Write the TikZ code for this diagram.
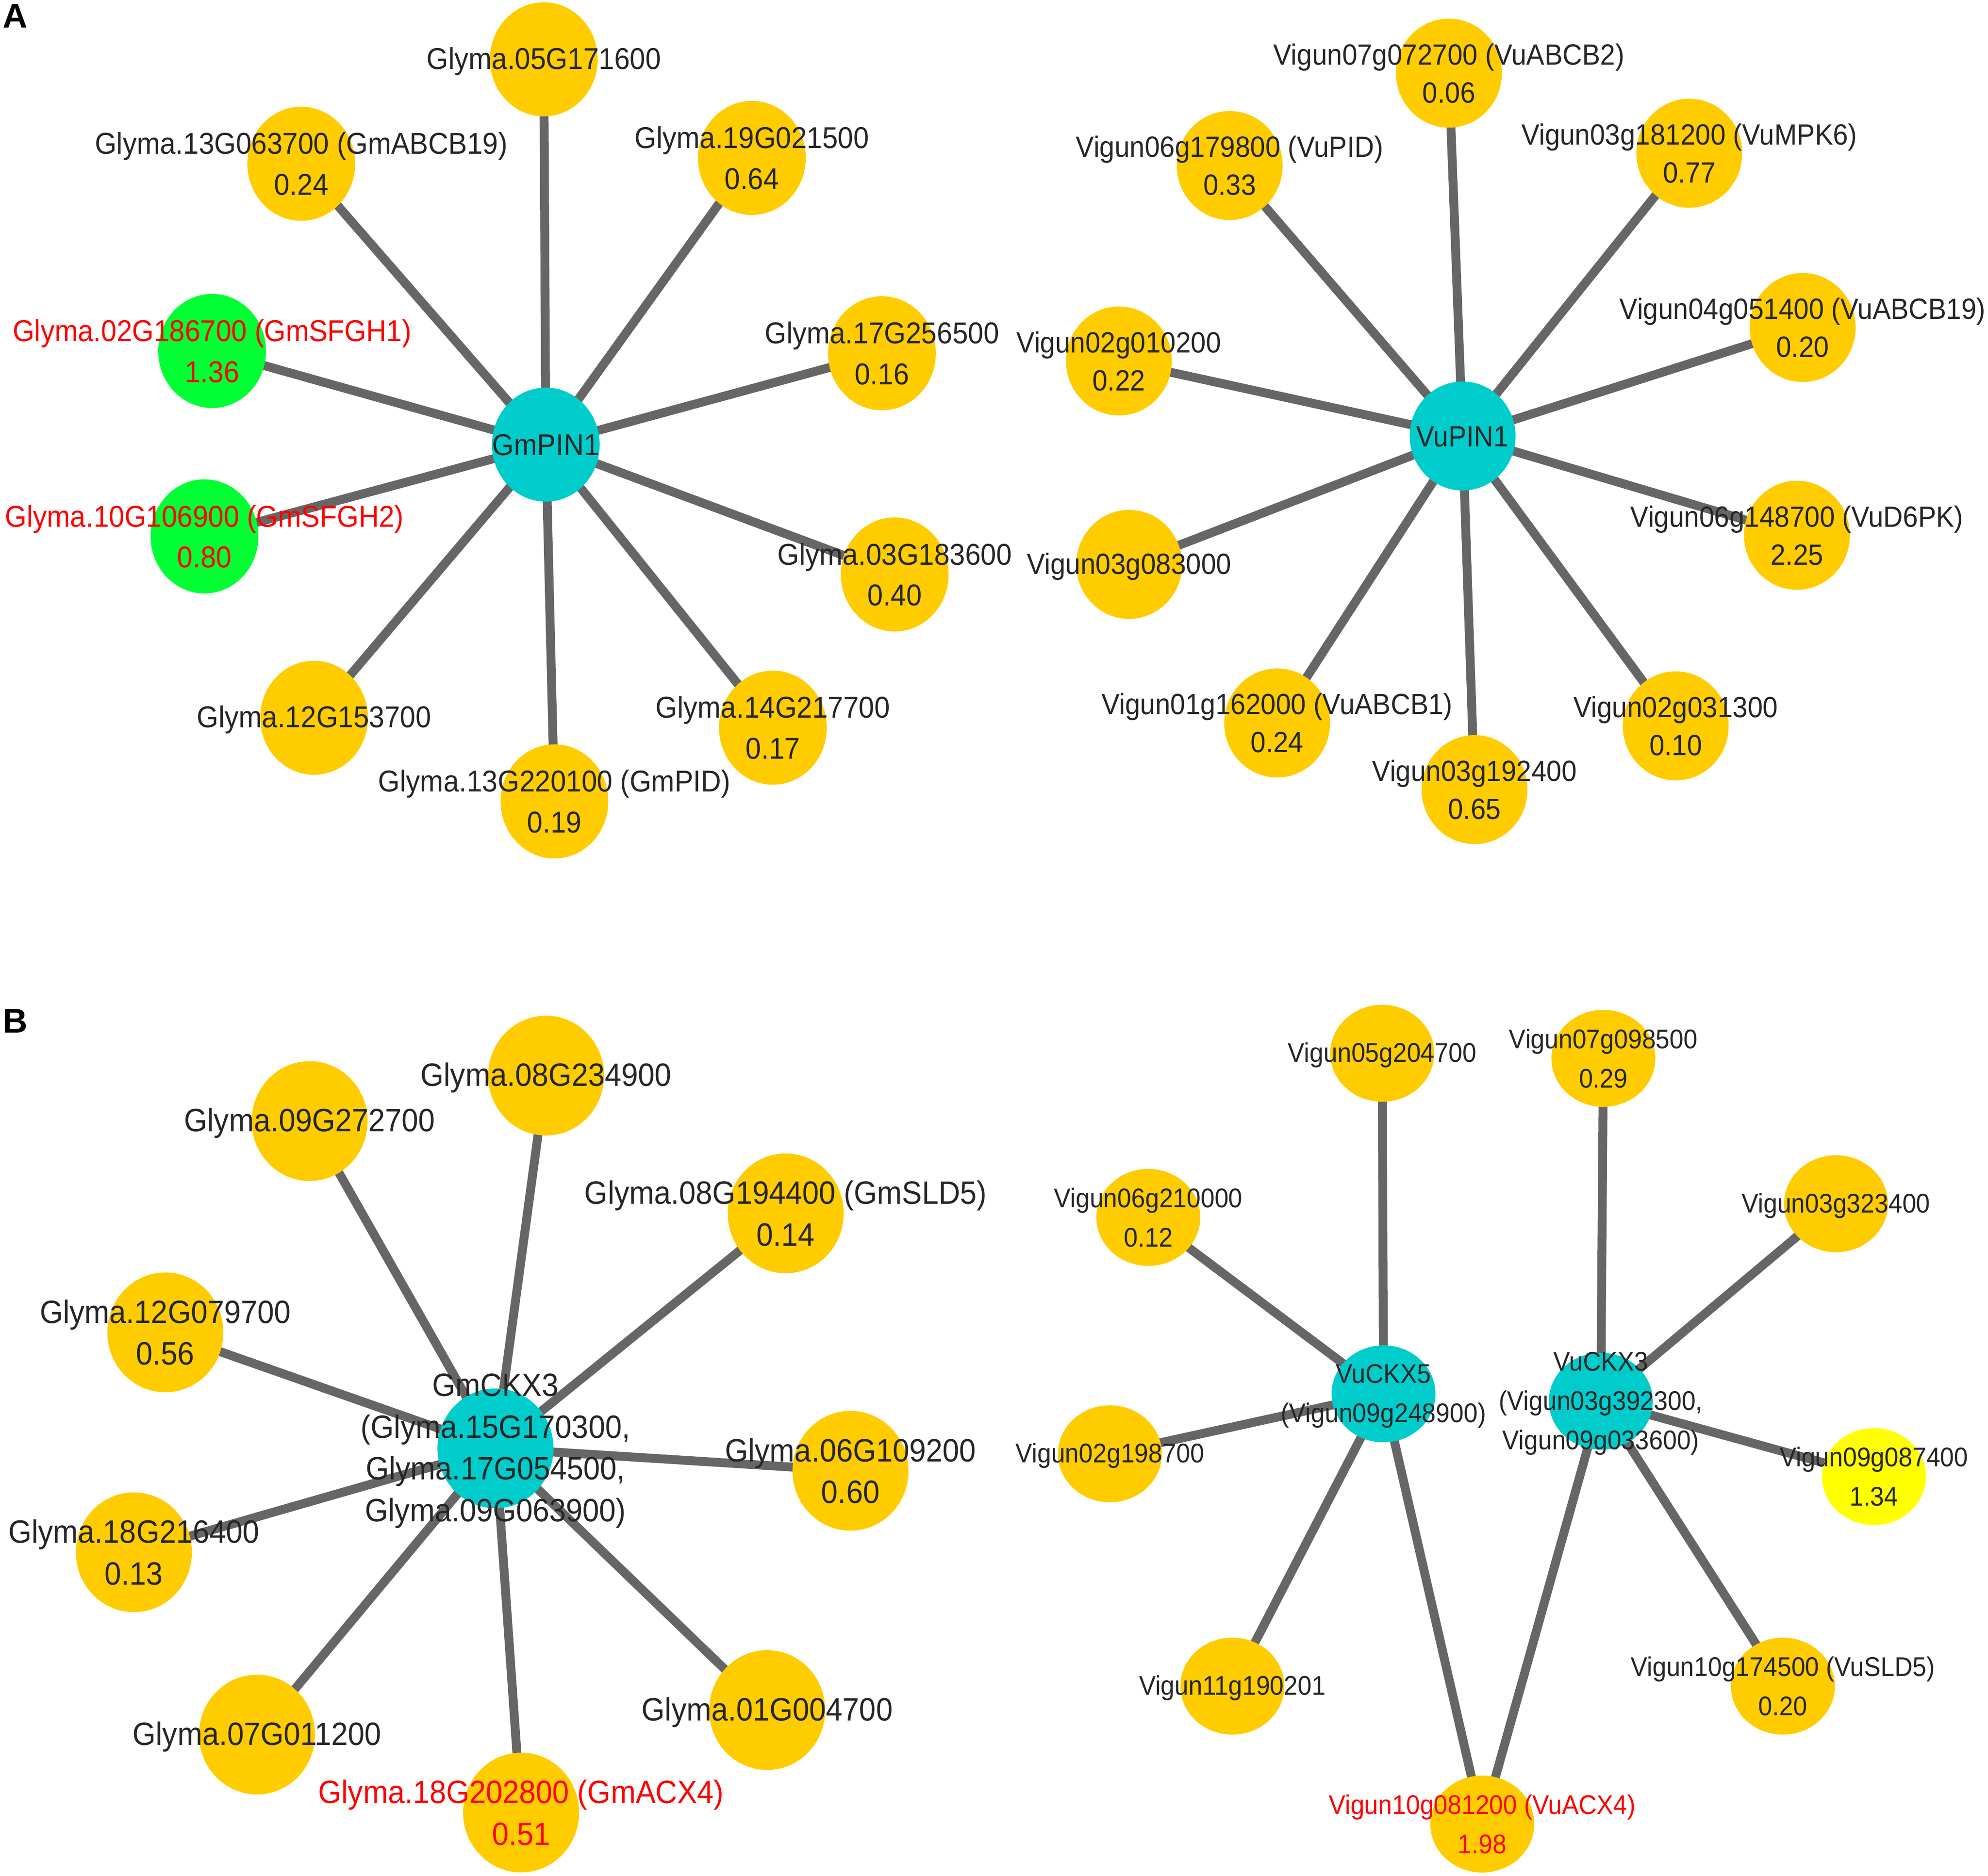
\documentclass[tikz,border=0pt]{standalone}
\usepackage{fontspec}
\setmainfont[FakeStretch=0.925]{Liberation Sans}
\newfontfamily\panelfont{Liberation Sans}
\usetikzlibrary{shapes.geometric}
\pgfdeclarelayer{edgelayer}
\pgfdeclarelayer{textlayer}
\pgfsetlayers{edgelayer,main,textlayer}
\definecolor{orangefill}{RGB}{255,204,0}
\definecolor{greenfill}{RGB}{0,255,51}
\definecolor{cyanfill}{RGB}{0,204,204}
\definecolor{yellowfill}{RGB}{255,255,0}
\definecolor{edgegray}{RGB}{102,102,102}
\definecolor{labeltext}{RGB}{38,38,38}
\definecolor{redtext}{RGB}{255,0,0}
\newcommand\lst{\rule[-0.14em]{0pt}{1em}}
\begin{document}
\begin{tikzpicture}[x=1pt,y=-1pt,
  gene/.style={ellipse, inner sep=0pt, fill=orangefill},
  sizeA/.style={minimum width=85pt, minimum height=90pt},
  sizeB/.style={minimum width=83.5pt, minimum height=86pt},
  sizeC/.style={minimum width=91.5pt, minimum height=94.5pt},
  sizeD/.style={minimum width=82pt, minimum height=76.5pt},
  hubfill/.style={fill=cyanfill},
  upfill/.style={fill=greenfill},
  hifill/.style={fill=yellowfill},
  lab/.style={align=center, inner sep=0pt, text=labeltext},
  redlab/.style={text=redtext},
  fontA/.style={font=\fontsize{23.8}{32.3}\selectfont},
  fontB/.style={font=\fontsize{23.1}{30}\selectfont},
  fontC/.style={font=\fontsize{25.5}{33}\selectfont},
  fontD/.style={font=\fontsize{21.3}{31}\selectfont},
  link/.style={draw=edgegray, line width=7pt},
  panel/.style={font=\panelfont\bfseries\fontsize{27}{27}\selectfont, anchor=base west, inner sep=0pt, text=black}
]
\useasboundingbox (0,0) rectangle (1568,1480);

% ---------------- Panel A, left ----------------
\node[gene,sizeA,hubfill] (ga0) at (430.5,350.8) {};
\node[gene,sizeA] (ga1) at (428.9,46.8) {};
\node[gene,sizeA] (ga2) at (237.6,129.2) {};
\node[gene,sizeA] (ga3) at (593,124.6) {};
\node[gene,sizeA,upfill] (ga4) at (167.3,276.9) {};
\node[gene,sizeA,upfill] (ga5) at (161.3,423.2) {};
\node[gene,sizeA] (ga6) at (695.6,278.7) {};
\node[gene,sizeA] (ga7) at (705.7,453.2) {};
\node[gene,sizeA] (ga8) at (247.7,566.3) {};
\node[gene,sizeA] (ga9) at (609.6,574.1) {};
\node[gene,sizeA] (ga10) at (437.3,632.3) {};

% ---------------- Panel A, right ----------------
\node[gene,sizeB,hubfill] (va0) at (1153.6,344) {};
\node[gene,sizeB] (va1) at (1142.8,57.7) {};
\node[gene,sizeB] (va2) at (969.9,130.6) {};
\node[gene,sizeB] (va3) at (1332.4,120.9) {};
\node[gene,sizeB] (va4) at (1421.8,258.4) {};
\node[gene,sizeB] (va5) at (882.5,284.8) {};
\node[gene,sizeB] (va6) at (890.6,445.3) {};
\node[gene,sizeB] (va7) at (1417.3,422.3) {};
\node[gene,sizeB] (va8) at (1007.3,570.4) {};
\node[gene,sizeB] (va9) at (1163,623) {};
\node[gene,sizeB] (va10) at (1321.7,572.7) {};

% ---------------- Panel B, left ----------------
\node[gene,sizeC,hubfill] (gb0) at (390.8,1142.7) {};
\node[gene,sizeC] (gb1) at (430.7,848.6) {};
\node[gene,sizeC] (gb2) at (244.2,884.5) {};
\node[gene,sizeC] (gb3) at (619.7,957.3) {};
\node[gene,sizeC] (gb4) at (130.4,1051.2) {};
\node[gene,sizeC] (gb5) at (670.8,1160.4) {};
\node[gene,sizeC] (gb6) at (105.6,1224.7) {};
\node[gene,sizeC] (gb7) at (202.7,1368.5) {};
\node[gene,sizeC] (gb8) at (605.1,1349.2) {};
\node[gene,sizeC] (gb9) at (411,1430) {};

% ---------------- Panel B, right ----------------
\node[gene,sizeD,hubfill] (vb1) at (1091.2,1099.7) {};
\node[gene,sizeD,hubfill] (vb2) at (1262.6,1105.5) {};
\node[gene,sizeD] (vb3) at (1090.2,831) {};
\node[gene,sizeD] (vb4) at (1264.6,835) {};
\node[gene,sizeD] (vb5) at (905.7,960.5) {};
\node[gene,sizeD] (vb6) at (1448.1,949.7) {};
\node[gene,sizeD] (vb7) at (875.4,1147) {};
\node[gene,sizeD,hifill] (vb8) at (1478,1165) {};
\node[gene,sizeD] (vb9) at (972,1330.3) {};
\node[gene,sizeD] (vb10) at (1406.2,1330.3) {};
\node[gene,sizeD] (vb11) at (1169.1,1439.1) {};

% ---------------- Edges ----------------
\begin{pgfonlayer}{edgelayer}
\foreach \n in {ga1,ga2,ga3,ga4,ga5,ga6,ga7,ga8,ga9,ga10}
  \draw[link] (ga0.center) -- (\n.center);
\foreach \n in {va1,va2,va3,va4,va5,va6,va7,va8,va9,va10}
  \draw[link] (va0.center) -- (\n.center);
\foreach \n in {gb1,gb2,gb3,gb4,gb5,gb6,gb7,gb8,gb9}
  \draw[link] (gb0.center) -- (\n.center);
\foreach \n in {vb3,vb5,vb7,vb9,vb11}
  \draw[link] (vb1.center) -- (\n.center);
\foreach \n in {vb4,vb6,vb8,vb10,vb11}
  \draw[link] (vb2.center) -- (\n.center);
\end{pgfonlayer}

% ---------------- Labels ----------------
\begin{pgfonlayer}{textlayer}
\node[panel] (labelA) at (2,21.8) {A};
\node[panel] (labelB) at (2,815) {B};

\node[lab,fontA] (ga0t) at (ga0) {\lst GmPIN1};
\node[lab,fontA] (ga1t) at (ga1) {\lst Glyma.05G171600};
\node[lab,fontA] (ga2t) at (ga2) {\lst Glyma.13G063700 (GmABCB19)\\\lst 0.24};
\node[lab,fontA] (ga3t) at (ga3) {\lst Glyma.19G021500\\\lst 0.64};
\node[lab,fontA,redlab] (ga4t) at (ga4) {\lst Glyma.02G186700 (GmSFGH1)\\\lst 1.36};
\node[lab,fontA,redlab] (ga5t) at (ga5) {\lst Glyma.10G106900 (GmSFGH2)\\\lst 0.80};
\node[lab,fontA] (ga6t) at (ga6) {\lst Glyma.17G256500\\\lst 0.16};
\node[lab,fontA] (ga7t) at (ga7) {\lst Glyma.03G183600\\\lst 0.40};
\node[lab,fontA] (ga8t) at (ga8) {\lst Glyma.12G153700};
\node[lab,fontA] (ga9t) at (ga9) {\lst Glyma.14G217700\\\lst 0.17};
\node[lab,fontA] (ga10t) at (ga10) {\lst Glyma.13G220100 (GmPID)\\\lst 0.19};

\node[lab,fontB] (va0t) at (va0) {\lst VuPIN1};
\node[lab,fontB] (va1t) at (va1) {\lst Vigun07g072700 (VuABCB2)\\\lst 0.06};
\node[lab,fontB] (va2t) at (va2) {\lst Vigun06g179800 (VuPID)\\\lst 0.33};
\node[lab,fontB] (va3t) at (va3) {\lst Vigun03g181200 (VuMPK6)\\\lst 0.77};
\node[lab,fontB] (va4t) at (va4) {\lst Vigun04g051400 (VuABCB19)\\\lst 0.20};
\node[lab,fontB] (va5t) at (va5) {\lst Vigun02g010200\\\lst 0.22};
\node[lab,fontB] (va6t) at (va6) {\lst Vigun03g083000};
\node[lab,fontB] (va7t) at (va7) {\lst Vigun06g148700 (VuD6PK)\\\lst 2.25};
\node[lab,fontB] (va8t) at (va8) {\lst Vigun01g162000 (VuABCB1)\\\lst 0.24};
\node[lab,fontB] (va9t) at (va9) {\lst Vigun03g192400\\\lst 0.65};
\node[lab,fontB] (va10t) at (va10) {\lst Vigun02g031300\\\lst 0.10};

\node[lab,fontC] (gb0t) at (gb0) {\lst GmCKX3\\\lst (Glyma.15G170300,\\\lst Glyma.17G054500,\\\lst Glyma.09G063900)};
\node[lab,fontC] (gb1t) at (gb1) {\lst Glyma.08G234900};
\node[lab,fontC] (gb2t) at (gb2) {\lst Glyma.09G272700};
\node[lab,fontC] (gb3t) at (gb3) {\lst Glyma.08G194400 (GmSLD5)\\\lst 0.14};
\node[lab,fontC] (gb4t) at (gb4) {\lst Glyma.12G079700\\\lst 0.56};
\node[lab,fontC] (gb5t) at (gb5) {\lst Glyma.06G109200\\\lst 0.60};
\node[lab,fontC] (gb6t) at (gb6) {\lst Glyma.18G216400\\\lst 0.13};
\node[lab,fontC] (gb7t) at (gb7) {\lst Glyma.07G011200};
\node[lab,fontC] (gb8t) at (gb8) {\lst Glyma.01G004700};
\node[lab,fontC,redlab] (gb9t) at (gb9) {\lst Glyma.18G202800 (GmACX4)\\\lst 0.51};

\node[lab,fontD] (vb1t) at (vb1) {\lst VuCKX5\\\lst (Vigun09g248900)};
\node[lab,fontD] (vb2t) at (vb2) {\lst VuCKX3\\\lst (Vigun03g392300,\\\lst Vigun09g033600)};
\node[lab,fontD] (vb3t) at (vb3) {\lst Vigun05g204700};
\node[lab,fontD] (vb4t) at (vb4) {\lst Vigun07g098500\\\lst 0.29};
\node[lab,fontD] (vb5t) at (vb5) {\lst Vigun06g210000\\\lst 0.12};
\node[lab,fontD] (vb6t) at (vb6) {\lst Vigun03g323400};
\node[lab,fontD] (vb7t) at (vb7) {\lst Vigun02g198700};
\node[lab,fontD] (vb8t) at (vb8) {\lst Vigun09g087400\\\lst 1.34};
\node[lab,fontD] (vb9t) at (vb9) {\lst Vigun11g190201};
\node[lab,fontD] (vb10t) at (vb10) {\lst Vigun10g174500 (VuSLD5)\\\lst 0.20};
\node[lab,fontD,redlab] (vb11t) at (vb11) {\lst Vigun10g081200 (VuACX4)\\\lst 1.98};
\end{pgfonlayer}
\end{tikzpicture}
\end{document}
